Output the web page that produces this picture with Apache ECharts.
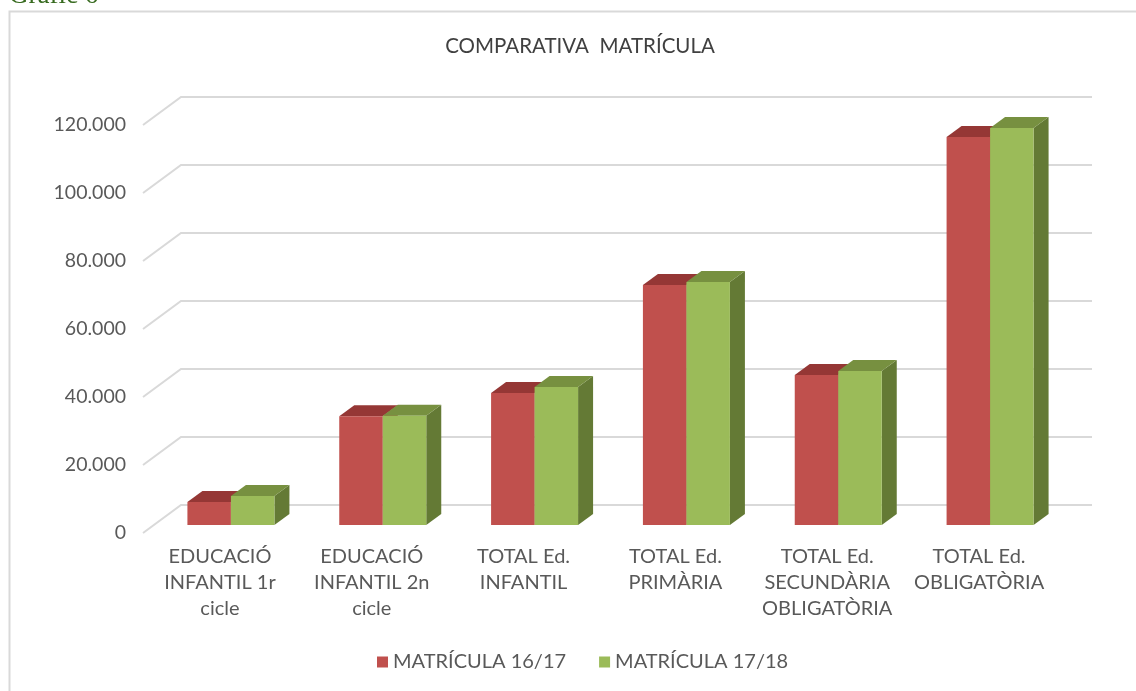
<!DOCTYPE html>
<html>
<head>
<meta charset="utf-8">
<title>Comparativa matrícula</title>
<script src="https://cdn.jsdelivr.net/npm/echarts@6/dist/echarts.min.js"></script>
<style>
  html, body { margin: 0; padding: 0; background: #fff; }
  #chart { width: 1136px; height: 691px; }
</style>
</head>
<body>
<div id="chart"></div>
<script>
var categories = [
  'EDUCACIÓ\nINFANTIL 1r\ncicle',
  'EDUCACIÓ\nINFANTIL 2n\ncicle',
  'TOTAL Ed.\nINFANTIL',
  'TOTAL Ed.\nPRIMÀRIA',
  'TOTAL Ed.\nSECUNDÀRIA\nOBLIGATÒRIA',
  'TOTAL Ed.\nOBLIGATÒRIA'
];
var matricula1617 = [6800, 32000, 38800, 70600, 44100, 114100];
var matricula1718 = [8500, 32100, 40600, 71500, 45300, 116800];
var yTicks = [0, 20000, 40000, 60000, 80000, 100000, 120000];

var fontName = 'Lato';
var depthX = 15, depthY = 11; // fondo de las barras 3D

// barra con cara frontal, techo y lateral
function barRenderer(side, front, top, right) {
  return function (params, api) {
    var base = api.coord([api.value(0), 0]);
    var head = api.coord([api.value(0), api.value(1)]);
    var w = api.size([1, 0])[0] * 0.2865;
    var x0 = base[0] + (side < 0 ? -w : 0);
    var x1 = x0 + w;
    var y0 = head[1], y1 = base[1];
    return {
      type: 'group',
      children: [
        { type: 'polygon', shape: { points: [[x1, y0], [x1 + depthX, y0 - depthY], [x1 + depthX, y1 - depthY], [x1, y1]] }, style: { fill: right } },
        { type: 'polygon', shape: { points: [[x0, y0], [x0 + depthX, y0 - depthY], [x1 + depthX, y0 - depthY], [x1, y0]] }, style: { fill: top } },
        { type: 'rect', shape: { x: x0, y: y0, width: w, height: y1 - y0 }, style: { fill: front } }
      ]
    };
  };
}

// lineas de la pared y el suelo
function wallRenderer(params, api) {
  var cs = params.coordSys;
  var p = api.coord([0, api.value(0)]);
  return {
    type: 'polyline',
    shape: { points: [[cs.x - 12, p[1] + 8], [cs.x + 26, p[1] - 20], [cs.x + cs.width + 26, p[1] - 20]] },
    style: { fill: 'none', stroke: '#d9d9d9', lineWidth: 2 },
    silent: true
  };
}

var chart = echarts.init(document.getElementById('chart'), null, { renderer: 'canvas' });
chart.setOption({
  animation: false,
  backgroundColor: '#fff',
  textStyle: { fontFamily: fontName },
  title: {
    text: 'COMPARATIVA  MATRÍCULA',
    left: 575,
    top: 31,
    textAlign: 'center',
    textStyle: { fontFamily: fontName, fontSize: 20.5, fontWeight: 'normal', color: '#404040' }
  },
  legend: {
    data: ['MATRÍCULA 16/17', 'MATRÍCULA 17/18'],
    left: 372,
    top: 647,
    itemWidth: 11,
    itemHeight: 11,
    itemGap: 33,
    icon: 'rect',
    textStyle: { fontFamily: fontName, fontSize: 20, color: '#595959' }
  },
  grid: { left: 155, right: 70, top: 117, bottom: 166 },
  xAxis: {
    type: 'category',
    data: categories,
    axisLine: { show: false },
    axisTick: { show: false },
    axisLabel: { interval: 0, color: '#595959', fontSize: 20, lineHeight: 26, margin: 19, padding: [0, 22, 0, 0], fontFamily: fontName }
  },
  yAxis: {
    type: 'value',
    min: 0,
    max: 120000,
    interval: 20000,
    axisLine: { show: false },
    axisTick: { show: false },
    splitLine: { show: false },
    axisLabel: {
      color: '#595959',
      fontSize: 19.5,
      margin: 29,
      verticalAlign: 'top',
      lineHeight: 16,
      fontFamily: fontName,
      formatter: function (v) { return String(v).replace(/\B(?=(\d{3})+$)/g, '.'); }
    }
  },
  series: [
    {
      type: 'custom',
      name: 'paredes',
      renderItem: wallRenderer,
      data: yTicks.map(function (v) { return [v]; }),
      encode: { y: 0 },
      clip: false,
      silent: true,
      z: 1
    },
    {
      type: 'custom',
      name: 'MATRÍCULA 16/17',
      renderItem: barRenderer(-1, '#c0504d', '#953735', '#953735'),
      data: matricula1617.map(function (v, i) { return [i, v]; }),
      encode: { x: 0, y: 1 },
      itemStyle: { color: '#c0504d' },
      clip: false,
      z: 2
    },
    {
      type: 'custom',
      name: 'MATRÍCULA 17/18',
      renderItem: barRenderer(1, '#9bbb59', '#779040', '#647a35'),
      data: matricula1718.map(function (v, i) { return [i, v]; }),
      encode: { x: 0, y: 1 },
      itemStyle: { color: '#9bbb59' },
      clip: false,
      z: 3
    }
  ],
  graphic: [
    { type: 'rect', shape: { x: 9.5, y: 11.5, width: 1200, height: 800 }, style: { fill: 'none', stroke: '#d9d9d9', lineWidth: 2 }, silent: true, z: -1 },
    { type: 'text', x: 9, y: 9, style: { text: 'Gràfic 6', fill: '#376a1f', fontFamily: 'Liberation Serif', fontSize: 27, verticalAlign: 'bottom' }, silent: true }
  ]
});
</script>
</body>
</html>
